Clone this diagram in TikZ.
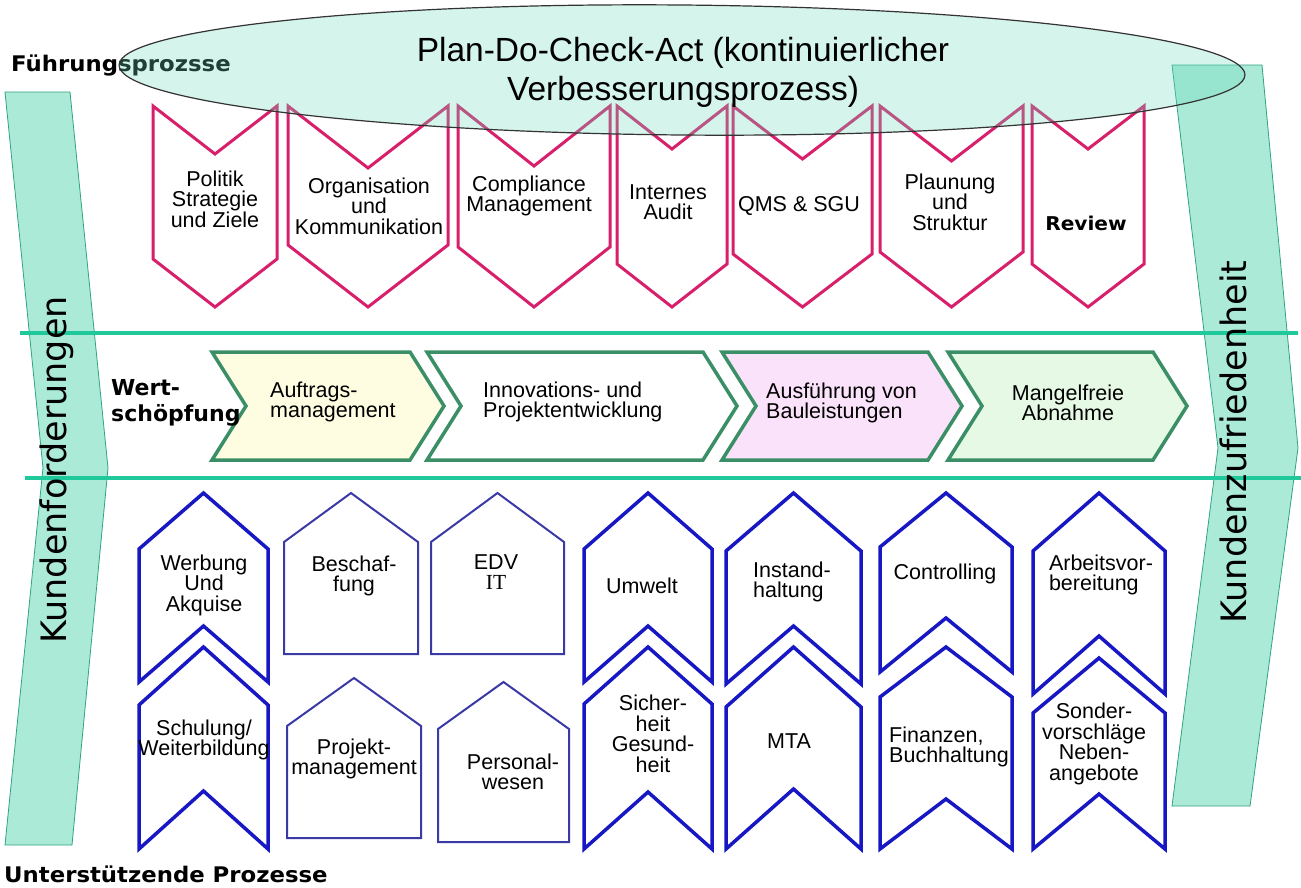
\documentclass[tikz,border=0pt]{standalone}
\usepackage{fontspec}
\setmainfont{Liberation Sans}
\newfontfamily\boldsans[FakeStretch=1.06]{DejaVu Sans}
\newfontfamily\wertface{DejaVu Sans}
\newfontfamily\sideface{DejaVu Sans}
\newfontfamily\serifface{Liberation Serif}
\definecolor{pinkc}{HTML}{D81F6B}
\definecolor{bluec}{HTML}{1717C4}
\definecolor{housec}{HTML}{3A3AA6}
\definecolor{chainc}{HTML}{3B8F67}
\definecolor{linec}{HTML}{1FC99B}
\definecolor{arrowfill}{HTML}{ABEAD7}
\definecolor{arrowdraw}{HTML}{2FA383}
\definecolor{ellfill}{HTML}{6CDCBE}
\definecolor{yelfill}{HTML}{FEFDE2}
\definecolor{pinkfill}{HTML}{FAE2FA}
\definecolor{greenfill}{HTML}{E6F9E4}
\tikzset{
  sidearrow/.style={fill=arrowfill, draw=arrowdraw, line width=0.8pt},
  bandline/.style={draw=linec, line width=4pt},
  pinkline/.style={draw=pinkc, line width=3pt, line join=miter},
  blueline/.style={draw=bluec, line width=3.5pt, line join=miter},
  houseline/.style={draw=housec, line width=2pt, line join=miter},
  chainline/.style={draw=chainc, line width=3.5pt, line join=miter},
  lbl/.style={inner sep=0pt, align=center, font=\fontsize{21.5}{20.5}\selectfont},
  lbll/.style={inner sep=0pt, align=left, font=\fontsize{21.5}{20.5}\selectfont},
  headlbl/.style={inner sep=0pt, align=left, font=\boldsans\bfseries\fontsize{21.5}{22}\selectfont},
  sidelbl/.style={inner sep=0pt, rotate=90, font=\sideface\fontsize{35}{35}\selectfont},
}
\newcommand\TopChev[3]{%
  \pgfmathsetmacro\cxm{(#1+#2)/2}%
  \draw[pinkline] (#1,106) -- (\cxm,106+#3) -- (#2,106) -- (#2,307-#3) -- (\cxm,307) -- (#1,307-#3) -- cycle;}
\newcommand\UpChev[5]{%
  \pgfmathsetmacro\cxm{(#1+#2)/2}%
  \draw[blueline] (#1,#3+#4) -- (\cxm,#3) -- (#2,#3+#4) -- (#2,#5) -- (\cxm,#5-#4) -- (#1,#5) -- cycle;}
\newcommand\HouseShape[5]{%
  \pgfmathsetmacro\cxm{(#1+#2)/2}%
  \draw[houseline] (#1,#4) -- (\cxm,#3) -- (#2,#4) -- (#2,#5) -- (#1,#5) -- cycle;}
\newcommand\ChainChev[4]{%
  \draw[chainline, fill=#4] (#1,352) -- (#2,352) -- (#2+34,406) -- (#2,460) -- (#1,460) -- (#1+34,406) -- cycle;}
\begin{document}
\begin{tikzpicture}[x=1pt,y=-1pt]
\useasboundingbox[fill=white] (0,0) rectangle (1301,887);
% side arrows
\draw[sidearrow] (5,92) -- (70,92) -- (108,468) -- (72,845) -- (5,845) -- (43,468) -- cycle;
\draw[sidearrow] (1172,65) -- (1262,65) -- (1298,448) -- (1250,806) -- (1172,806) -- (1218,448) -- cycle;
% band lines
\coordinate (l1a) at (20,333); \coordinate (l1b) at (1298,333);
\coordinate (l2a) at (25,478); \coordinate (l2b) at (1301,478);
\draw[bandline] (l1a) -- (l1b);
\draw[bandline] (l2a) -- (l2b);
% side labels
\node[sidelbl] (kf) at (57,470) {Kundenforderungen};
\node[sidelbl] (kz) at (1233,442) {Kundenzufriedenheit};
% value chain
\ChainChev{212}{410}{}{yelfill}
\ChainChev{427}{703}{}{white}
\ChainChev{722}{928}{}{pinkfill}
\ChainChev{948}{1153}{}{greenfill}
\node[inner sep=0pt, align=left, font=\wertface\bfseries\fontsize{22}{26}\selectfont, anchor=west] (ws) at (111,403) {Wert-\\schöpfung};
\node[lbll, anchor=west] (c1) at (270,402) {Auftrags-\\management};
\node[lbll, anchor=west] (c2) at (483,402) {Innovations- und\\Projektentwicklung};
\node[lbll, anchor=west] (c3) at (766,403) {Ausführung von\\Bauleistungen};
\node[lbl] (c4) at (1068,403) {Mangelfreie\\Abnahme};
% top chevrons
\TopChev{153}{277}{48}
\TopChev{288}{448}{62}
\TopChev{458}{610}{60}
\TopChev{617}{727}{43}
\TopChev{733}{872}{53}
\TopChev{880}{1023}{55}
\TopChev{1032}{1144}{43}
\node[lbl] (t1) at (215,199) {Politik\\Strategie\\und Ziele};
\node[lbl] (t2) at (369,206) {Organisation\\und\\Kommunikation};
\node[lbl] (t3) at (529,196) {Compliance\\Management};
\node[lbl] (t4) at (668,202) {Internes\\Audit};
\node[lbl] (t5) at (799,206) {QMS \& SGU};
\node[lbl] (t6) at (950,202) {Plaunung\\und\\Struktur};
\node[inner sep=0pt, font=\boldsans\bfseries\fontsize{19}{20}\selectfont] (t7) at (1086,223) {Review};
% bottom chevrons
\UpChev{139}{268}{493}{56}{682}
\UpChev{139}{268}{647}{58}{849}
\UpChev{584}{712}{493}{56}{682}
\UpChev{584}{712}{647}{57}{849}
\UpChev{726}{861}{493}{58}{684}
\UpChev{726}{861}{647}{60}{849}
\UpChev{880}{1012}{493}{54}{672}
\UpChev{880}{1012}{647}{50}{849}
\UpChev{1033}{1165}{493}{58}{694}
\UpChev{1033}{1165}{658}{55}{849}
% houses
\HouseShape{284}{418}{493}{542}{654}
\HouseShape{431}{564}{493}{542}{654}
\HouseShape{287}{421}{678}{726}{838}
\HouseShape{438}{569}{682}{729}{842}
% bottom labels
\node[lbl] (b1) at (204,585) {Werbung\\Und\\Akquise};
\node[lbl] (b2) at (354,576) {Beschaf-\\fung};
\node[lbl] (b3) at (496,572) {EDV\\{\serifface IT}};
\node[lbl] (b4) at (204,740) {Schulung/\\Weiterbildung};
\node[lbl] (b5) at (354,759) {Projekt-\\management};
\node[lbl] (b6) at (513,772) {Personal-\\wesen};
\node[lbl] (b7) at (642,586) {Umwelt};
\node[lbll] (b8) at (792,582) {Instand-\\haltung};
\node[lbl] (b9) at (945,574) {Controlling};
\node[lbll] (b10) at (1101,575) {Arbeitsvor-\\bereitung};
\node[lbl] (b11) at (653,734) {Sicher-\\heit\\Gesund-\\heit};
\node[lbl] (b12) at (789,741) {MTA};
\node[lbll, anchor=west] (b13) at (889,747) {Finanzen,\\Buchhaltung};
\node[lbl] (b14) at (1094,744) {Sonder-\\vorschläge\\Neben-\\angebote};
% headings
\node[headlbl, anchor=west] (fp) at (11,65) {Führungsprozsse};
\node[headlbl, anchor=west] (up) at (4,874) {Unterstützende Prozesse};
% PDCA ellipse
\draw[fill=ellfill, fill opacity=0.29, draw=black!80, line width=1.2pt, rotate around={-0.5:(682,70)}] (682,70) ellipse [x radius=563pt, y radius=65pt];
\node[inner sep=0pt, align=center, font=\fontsize{33.5}{39}\selectfont] (pdca) at (683,72) {Plan-Do-Check-Act (kontinuierlicher\\Verbesserungsprozess)};
\end{tikzpicture}
\end{document}
